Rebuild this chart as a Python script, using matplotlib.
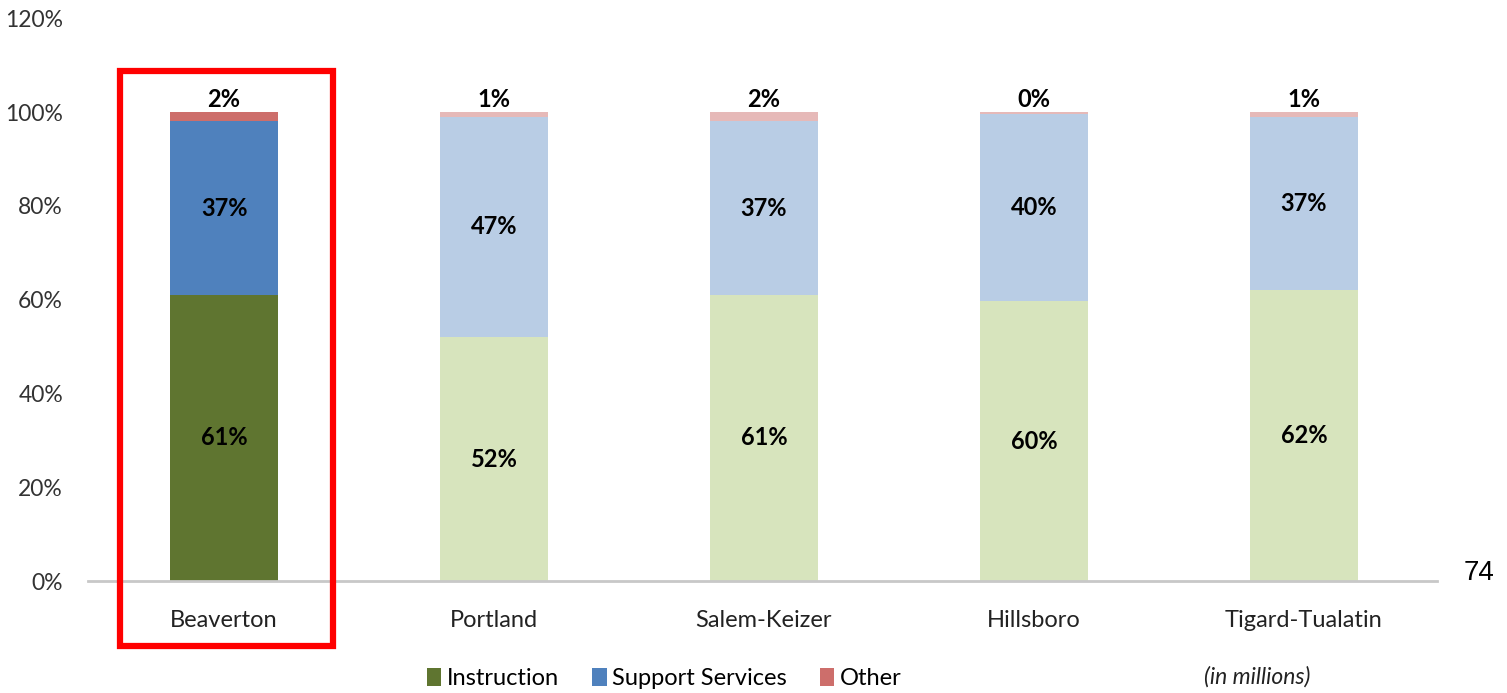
import matplotlib
matplotlib.use("Agg")
import matplotlib.pyplot as plt
from matplotlib.patches import Rectangle, Patch

plt.rcParams['font.family'] = ['Lato', 'DejaVu Sans']

districts = ["Beaverton", "Portland", "Salem-Keizer", "Hillsboro", "Tigard-Tualatin"]
instruction = [61, 52, 61, 59.6, 62]
support = [37, 47, 37, 40, 37]
other = [2, 1, 2, 0.4, 1]
y_ticks = [0, 20, 40, 60, 80, 100, 120]
series_names = ["Instruction", "Support Services", "Other"]

# Highlighted district uses saturated colours, the rest use pale tints
strong = ["#5F7530", "#4F81BD", "#CD6E6B"]
pale = ["#D7E4BD", "#B9CDE5", "#E6B9B8"]

fig = plt.figure(figsize=(15.07, 6.93), dpi=100)
ax = fig.add_axes([0.0584, 0.1616, 0.8951, 0.8121])

x = list(range(len(districts)))
width = 0.4
lab_fs = 17
for i in x:
    cols = strong if i == 0 else pale
    bottom = 0
    for val, col in zip([instruction[i], support[i]], cols[:2]):
        ax.bar(i, val, width, bottom=bottom, color=col, linewidth=0)
        ax.text(i, bottom + val / 2, f"{val:.0f}%", ha="center", va="center",
                fontsize=lab_fs, fontweight="bold", color="black")
        bottom += val
    ax.bar(i, other[i], width, bottom=bottom, color=cols[2], linewidth=0)
    ax.text(i, bottom + other[i] + 0.2, f"{other[i]:.0f}%", ha="center", va="bottom",
            fontsize=lab_fs, fontweight="bold", color="black")

ax.set_xlim(-0.504, 4.493)
ax.set_ylim(0, 120)
ax.set_yticks(y_ticks)
ax.set_yticklabels([f"{t}%" for t in y_ticks])
ax.set_xticks(x)
ax.set_xticklabels(districts)
ax.tick_params(axis="y", length=0, pad=18, labelsize=16.5, labelcolor="#333333")
ax.tick_params(axis="x", length=0, pad=21, labelsize=17, labelcolor="#222222")
for s in ["top", "right", "left"]:
    ax.spines[s].set_visible(False)
ax.spines["bottom"].set_color("#C8C8C8")
ax.spines["bottom"].set_linewidth(2)

# Red frame around the highlighted district
ax.add_patch(Rectangle((-0.385, -13.9), 0.789, 122.6, fill=False,
                       edgecolor="#FF0000", linewidth=4.5, clip_on=False, zorder=5))

handles = [Patch(facecolor=c, edgecolor="none") for c in strong]
fig.legend(handles, series_names, loc="center", bbox_to_anchor=(0.441, 0.021),
           ncol=3, frameon=False, fontsize=17, handlelength=0.6, handleheight=0.8,
           handletextpad=0.25, columnspacing=1.4)

fig.text(1257 / 1507, 0.024, "(in millions)", ha="center", va="center",
         fontsize=16.5, style="italic", color="#222222")
fig.text(1464 / 1507, 1 - 573 / 693, "74", ha="left", va="center",
         fontsize=20, family="Liberation Sans", color="black")

fig.savefig("out.png", dpi=100)
